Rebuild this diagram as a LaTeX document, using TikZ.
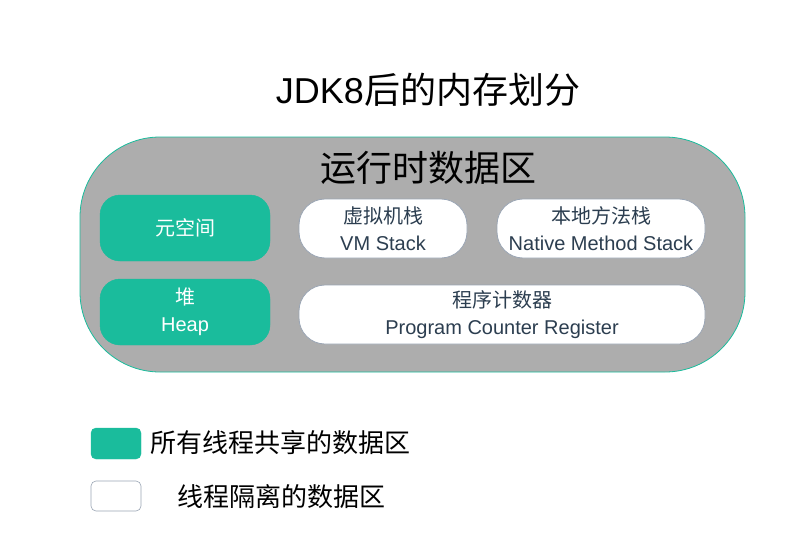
\documentclass[tikz,border=0pt]{standalone}
\usepackage{fontspec}
\setmainfont{Liberation Sans}
\newfontfamily\cjk{Noto Sans CJK SC}
\definecolor{teal1}{HTML}{1ABC9C}
\definecolor{gray1}{HTML}{ADADAD}
\definecolor{txt}{HTML}{2C3E50}
\definecolor{wb}{HTML}{9AA5B4}
\begin{document}
\begin{tikzpicture}[x=1pt,y=-1pt,
  shared/.style={draw=teal1,fill=teal1,rounded corners=20pt,text=white,align=center,font=\fontsize{20}{27}\selectfont,inner sep=0pt},
  isolated/.style={draw=wb,line width=0.8pt,fill=white,rounded corners=26pt,text=txt,align=center,font=\fontsize{20}{27}\selectfont,inner sep=0pt},
  legtext/.style={anchor=west,font=\fontsize{26}{30}\selectfont\cjk,inner sep=0pt}]
\useasboundingbox (0,0) rectangle (790,554);
\node[font=\fontsize{36}{40}\selectfont,inner sep=0pt] (title) at (428,90) {JDK8{\cjk 后的内存划分}};
\node[draw=teal1,fill=gray1,line width=0.8pt,rounded corners=80pt,minimum width=665pt,minimum height=235pt,inner sep=0pt] (runtime) at (412.5,254.5) {};
\node[font=\fontsize{36}{40}\selectfont\cjk,inner sep=0pt] (rtlabel) at (428.5,168) {运行时数据区};
\node[shared,minimum width=170pt,minimum height=66pt] (meta) at (185,228) {{\cjk 元空间}};
\node[shared,minimum width=170pt,minimum height=66pt] (heap) at (185,312) {{\cjk 堆}\\Heap};
\node[isolated,minimum width=168pt,minimum height=59pt] (vms) at (383,228.5) {{\cjk 虚拟机栈}\\VM Stack};
\node[isolated,minimum width=208pt,minimum height=59pt] (nms) at (601,228.5) {{\cjk 本地方法栈}\\Native Method Stack};
\node[isolated,minimum width=406pt,minimum height=59pt] (pc) at (502,314.5) {{\cjk 程序计数器}\\Program Counter Register};
\node[draw=teal1,fill=teal1,rounded corners=5pt,minimum width=50pt,minimum height=31pt,inner sep=0pt] (leg1) at (116,443.5) {};
\node[draw=wb,fill=white,line width=0.6pt,rounded corners=5pt,minimum width=50pt,minimum height=30pt,inner sep=0pt] (leg2) at (116,496) {};
\node[legtext] (leg1t) at (150,443) {所有线程共享的数据区};
\node[legtext] (leg2t) at (177,497) {线程隔离的数据区};
\end{tikzpicture}
\end{document}
